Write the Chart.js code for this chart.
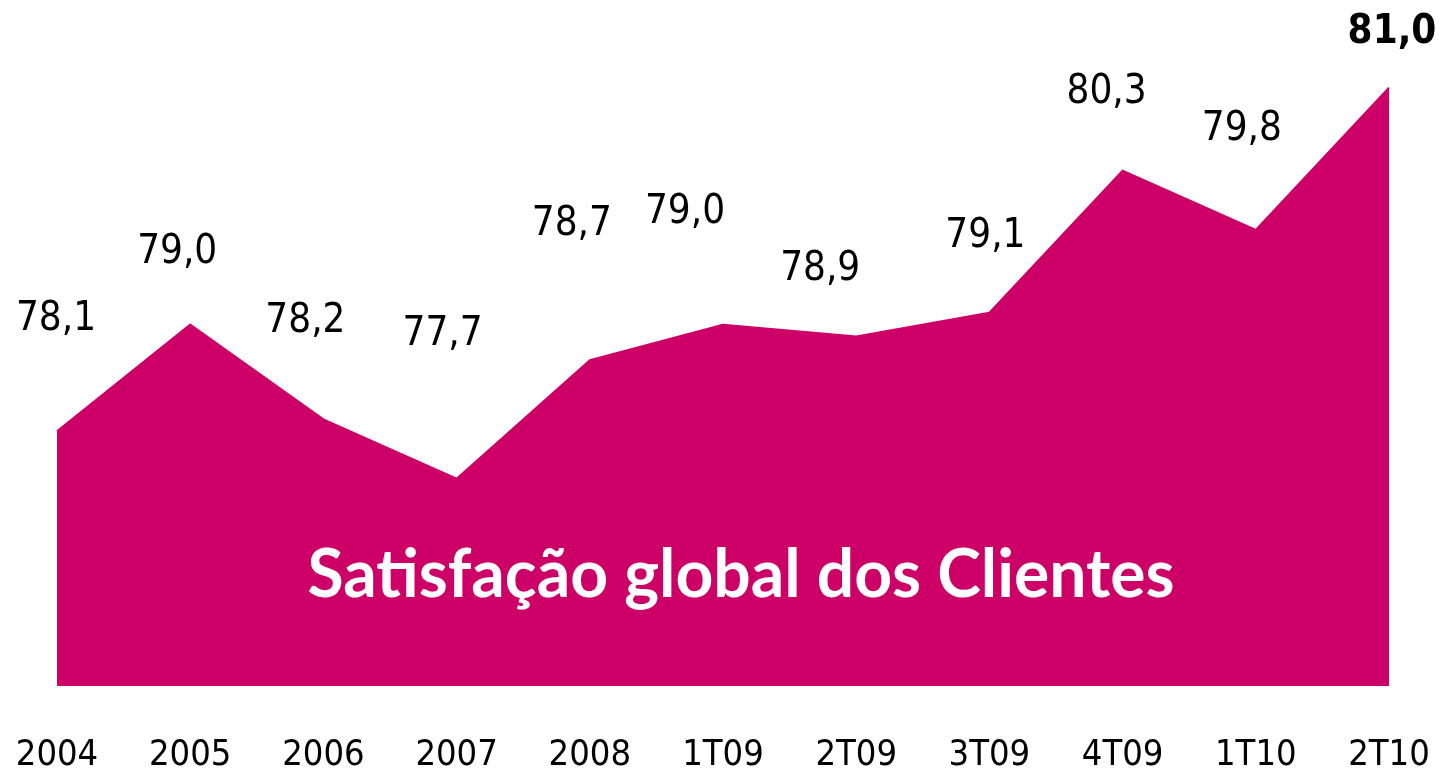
<!DOCTYPE html>
<html>
<head>
<meta charset="utf-8">
<script src="https://cdn.jsdelivr.net/npm/chart.js@4.4.1/dist/chart.umd.min.js"></script>
<style>
  html, body { margin: 0; padding: 0; background: #fff; }
  #wrap { width: 1443px; height: 771px; }
</style>
</head>
<body>
<div id="wrap"><canvas id="chart" width="1443" height="771"></canvas></div>
<script>
// periods on the x axis
const periods = ['2004', '2005', '2006', '2007', '2008', '1T09', '2T09', '3T09', '4T09', '1T10', '2T10'];

// global client satisfaction index
const satisfaction = [78.1, 79.0, 78.2, 77.7, 78.7, 79.0, 78.9, 79.1, 80.3, 79.8, 81.0];

// text shown over each point (comma decimals)
const valueLabels = ['78,1', '79,0', '78,2', '77,7', '78,7', '79,0', '78,9', '79,1', '80,3', '79,8', '81,0'];

const chartTitle = 'Satisfação global dos Clientes';

const magenta = '#cc0066';

// draws the number above every point, the last one in bold
const valueLabelPlugin = {
  id: 'valueLabels',
  afterDatasetsDraw(chart, args, opts) {
    const ctx = chart.ctx;
    const points = chart.getDatasetMeta(0).data;
    ctx.save();
    ctx.fillStyle = '#000';
    ctx.textAlign = 'center';
    ctx.textBaseline = 'alphabetic';
    points.forEach((pt, i) => {
      const last = i === points.length - 1;
      ctx.font = (last ? 'bold ' : '') + '40px "DejaVu Sans Condensed", "Liberation Sans", sans-serif';
      const [dx, dy] = opts.offsets[i];
      ctx.fillText(valueLabels[i], pt.x + dx, pt.y + dy);
    });
    ctx.restore();
  }
};

// white title written inside the filled area
const titlePlugin = {
  id: 'areaTitle',
  afterDatasetsDraw(chart) {
    const ctx = chart.ctx;
    const area = chart.chartArea;
    ctx.save();
    ctx.fillStyle = '#fff';
    ctx.font = 'bold 66px Lato, "Open Sans", sans-serif';
    ctx.textAlign = 'center';
    ctx.textBaseline = 'alphabetic';
    ctx.fillText(chartTitle, (area.left + area.right) / 2 + 18, area.bottom - 89);
    ctx.restore();
  }
};

new Chart(document.getElementById('chart'), {
  type: 'line',
  data: {
    labels: periods,
    datasets: [{
      data: satisfaction,
      fill: 'start',
      backgroundColor: magenta,
      borderColor: magenta,
      borderWidth: 2,
      borderJoinStyle: 'round',
      pointRadius: 0,
      tension: 0
    }]
  },
  options: {
    responsive: false,
    animation: false,
    layout: { padding: { left: 57, right: 54, top: 0, bottom: 0 } },
    plugins: {
      legend: { display: false },
      tooltip: { enabled: false },
      valueLabels: {
        offsets: [[-1, -101], [-13, -62], [-18, -87], [-14, -134], [-18, -125], [-38, -102],
                  [-36, -56], [-4, -66], [-16, -68], [-14, -90], [3, -45]]
      }
    },
    scales: {
      x: {
        offset: false,
        grid: { display: false, drawTicks: false },
        border: { display: false },
        ticks: {
          color: '#000',
          padding: 52,
          maxRotation: 0,
          autoSkip: false,
          font: { family: '"DejaVu Sans Condensed", "Liberation Sans", sans-serif', size: 36, lineHeight: 1 }
        },
        afterFit(scale) {
          // labels hang below the area, keep the area bottom where it is
          scale.height = 85;
          scale.paddingLeft = 0;
          scale.paddingRight = 0;
        }
      },
      y: {
        display: false,
        min: 75.95,
        max: 81.74
      }
    }
  },
  plugins: [valueLabelPlugin, titlePlugin]
});
</script>
</body>
</html>
